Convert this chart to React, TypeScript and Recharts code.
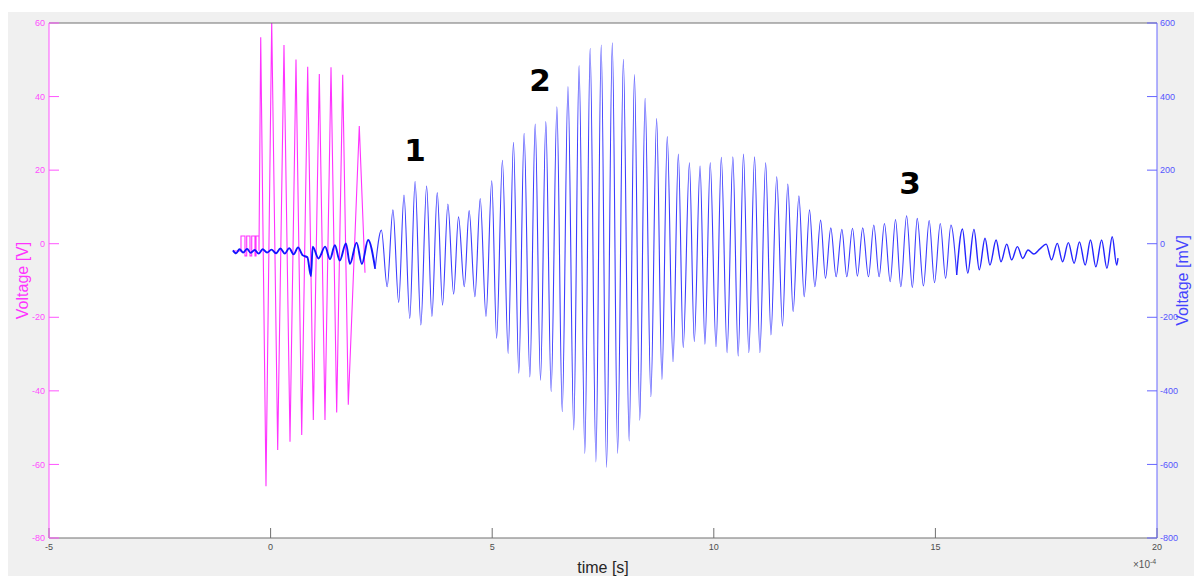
import { LineChart, Line, XAxis, YAxis, CartesianGrid, ReferenceDot, Label } from "recharts"

// time axis in units of 1e-4 s
const xTicks = [-5, 0, 5, 10, 15, 20]
const voltTicks = [-80, -60, -40, -20, 0, 20, 40, 60]
const milliTicks = [-800, -600, -400, -200, 0, 200, 400, 600]

// excitation signal [time, V]
const excitation = [
  [-0.85, -2], [-0.668, -2], [-0.668, 2.1], [-0.578, 2.1], [-0.578, -3.3], [-0.539, -3.3],
  [-0.539, 2.1], [-0.465, 2.1], [-0.465, -3.3], [-0.426, -3.3], [-0.426, 2.1], [-0.352, 2.1],
  [-0.352, -3.3], [-0.329, -3.3], [-0.329, 2.1], [-0.262, 2.1], [-0.262, -2],
  [-0.223, 56.1], [-0.104, -65.9], [0.025, 60.5], [0.16, -56.1], [0.302, 54.0], [0.438, -53.8],
  [0.573, 50.1], [0.702, -52.0], [0.837, 48.1], [0.964, -47.9], [1.099, 46.1], [1.227, -47.9],
  [1.363, 48.0], [1.491, -45.9], [1.627, 45.9], [1.753, -43.8], [2.001, 32.0], [2.13, -7.9],
]

// received signal [time, mV], split where the trace looks noisier
const responseStart = [
  [-0.85, -18], [-0.78, -26], [-0.70, -15], [-0.62, -24], [-0.53, -14], [-0.45, -25], [-0.36, -17],
  [-0.27, -27], [-0.18, -15], [-0.08, -24], [0.02, -16], [0.12, -26], [0.22, -13], [0.32, -27],
  [0.42, -12], [0.52, -29], [0.62, -10], [0.72, -31], [0.83, -37], [0.91, -88], [0.95, -8],
  [1.08, -40], [1.23, -8], [1.34, -42], [1.45, -4], [1.56, -46], [1.70, 1], [1.79, -55], [1.94, 3],
  [2.06, -55], [2.20, 10], [2.36, -68],
]

const responseMain = [
  [2.36, -68], [2.50, 37], [2.63, -117], [2.76, 92], [2.89, -160], [3.01, 132], [3.14, -203],
  [3.26, 169], [3.39, -221], [3.52, 157], [3.64, -198], [3.76, 139], [3.88, -167], [4.00, 108],
  [4.13, -137], [4.24, 73], [4.37, -117], [4.48, 90], [4.61, -144], [4.73, 123], [4.86, -198],
  [4.99, 171], [5.10, -257], [5.23, 227], [5.36, -298], [5.48, 276], [5.60, -352], [5.72, 300],
  [5.85, -362], [5.97, 325], [6.09, -371], [6.21, 332], [6.33, -402], [6.46, 372], [6.58, -457],
  [6.71, 427], [6.84, -506], [6.96, 484], [7.09, -570], [7.21, 531], [7.34, -593], [7.46, 540],
  [7.58, -608], [7.71, 546], [7.83, -570], [7.96, 501], [8.09, -536], [8.21, 460], [8.33, -480],
  [8.45, 395], [8.58, -416], [8.71, 340], [8.83, -369], [8.95, 291], [9.08, -321], [9.20, 244],
  [9.31, -282], [9.45, 220], [9.56, -266], [9.69, 211], [9.80, -273], [9.92, 220], [10.05, -280],
  [10.17, 235], [10.30, -296], [10.43, 236], [10.55, -305], [10.67, 244], [10.79, -296],
  [10.92, 236], [11.04, -296], [11.17, 220], [11.29, -248], [11.42, 182], [11.55, -224],
  [11.67, 162], [11.79, -185], [11.92, 130], [12.04, -144], [12.16, 92], [12.28, -117],
  [12.41, 64], [12.52, -94], [12.64, 43], [12.76, -90], [12.89, 39], [13.00, -90], [13.13, 42],
  [13.24, -88], [13.36, 43], [13.49, -90], [13.61, 51], [13.73, -90], [13.85, 55], [13.98, -103],
  [14.10, 66], [14.22, -117], [14.35, 76], [14.48, -119], [14.59, 69], [14.73, -115], [14.86, 63],
  [14.98, -106], [15.11, 55], [15.23, -94], [15.35, 51], [15.48, -85],
]

const responseEnd = [
  [15.48, -85], [15.61, 40], [15.73, -80], [15.87, 39], [15.99, -71], [16.12, 15], [16.23, -58],
  [16.37, 10], [16.48, -49], [16.61, -1], [16.72, -44], [16.85, -8], [16.97, -40], [17.09, -17],
  [17.22, -28], [17.36, -14], [17.50, -1], [17.62, -44], [17.75, 1], [17.87, -49], [18.00, 3],
  [18.13, -53], [18.25, 5], [18.38, -58], [18.50, 10], [18.62, -63], [18.75, 10], [18.87, -67],
  [18.99, 19], [19.09, -58], [19.12, -39],
]

// wave packet markers [label, time, V]
const markers: [string, number, number][] = [
  ["1", 3.26, 25.5],
  ["2", 6.08, 44.5],
  ["3", 14.43, 16.5],
]

const toRows = (pts: number[][]) => pts.map(([t, v]) => ({ t, v }))

const W = 1194
const H = 564
const font = "'Liberation Sans', Arial, Helvetica, sans-serif"

export default function App() {
  return (
    <div style={{ position: "relative", width: W, height: H, marginTop: 4, background: "#f0f0f0", fontFamily: font }}>
      <LineChart width={W} height={H} margin={{ top: 0, right: 0, bottom: 0, left: 0 }}>
        <CartesianGrid xAxisId="b" yAxisId="v" fill="#ffffff" horizontal={false} vertical={false} />
        <XAxis
          xAxisId="top"
          orientation="top"
          type="number"
          domain={[-5, 20]}
          ticks={xTicks}
          height={11}
          tick={false}
          tickSize={-10}
          axisLine={{ stroke: "#707070" }}
          tickLine={{ stroke: "#707070" }}
        />
        <XAxis
          xAxisId="b"
          dataKey="t"
          type="number"
          domain={[-5, 20]}
          ticks={xTicks}
          height={38}
          tickSize={-10}
          tickMargin={16}
          tick={{ fill: "#4d4d4d", fontSize: 9, fontFamily: font }}
          axisLine={{ stroke: "#707070" }}
          tickLine={{ stroke: "#707070" }}
        >
          <Label value="time [s]" position="center" dy={10} fill="#262626" fontSize={16} fontFamily={font} />
        </XAxis>
        <YAxis
          yAxisId="v"
          orientation="left"
          width={41}
          type="number"
          domain={[-80, 60]}
          ticks={voltTicks}
          allowDataOverflow
          tickSize={-10}
          tickMargin={14}
          tick={{ fill: "#ff4dff", fontSize: 9, fontFamily: font }}
          axisLine={{ stroke: "#ff55ff" }}
          tickLine={{ stroke: "#ff55ff" }}
        >
          <Label value="Voltage [V]" angle={-90} position="center" dx={-6} fill="#ff33ff" fontSize={16} fontFamily={font} />
        </YAxis>
        <YAxis
          yAxisId="mv"
          orientation="right"
          width={45}
          type="number"
          domain={[-800, 600]}
          ticks={milliTicks}
          allowDataOverflow
          tickSize={-10}
          tickMargin={13}
          tick={{ fill: "#5555ff", fontSize: 9, fontFamily: font }}
          axisLine={{ stroke: "#6666ff" }}
          tickLine={{ stroke: "#6666ff" }}
        >
          <Label value="Voltage [mV]" angle={-90} position="center" dx={3} fill="#4444ff" fontSize={16} fontFamily={font} />
        </YAxis>
        <Line
          xAxisId="b"
          yAxisId="v"
          data={toRows(excitation)}
          dataKey="v"
          type="linear"
          stroke="#ff33ff"
          strokeWidth={1.1}
          dot={false}
          activeDot={false}
          isAnimationActive={false}
        />
        <Line
          xAxisId="b"
          yAxisId="mv"
          data={toRows(responseStart)}
          dataKey="v"
          type="monotone"
          stroke="#1414ff"
          strokeWidth={1.9}
          dot={false}
          activeDot={false}
          isAnimationActive={false}
        />
        <Line
          xAxisId="b"
          yAxisId="mv"
          data={toRows(responseMain)}
          dataKey="v"
          type="monotone"
          stroke="#3c3cff"
          strokeWidth={1.1}
          dot={false}
          activeDot={false}
          isAnimationActive={false}
        />
        <Line
          xAxisId="b"
          yAxisId="mv"
          data={toRows(responseEnd)}
          dataKey="v"
          type="monotone"
          stroke="#2424ff"
          strokeWidth={1.4}
          dot={false}
          activeDot={false}
          isAnimationActive={false}
        />
        {markers.map(([name, t, v]) => (
          <ReferenceDot
            key={name}
            xAxisId="b"
            yAxisId="v"
            x={t}
            y={v}
            r={1}
            fill="none"
            stroke="none"
            label={{ value: name, position: "center", fill: "#000", fontSize: 31, fontWeight: 700, fontFamily: "'DejaVu Sans', Verdana, sans-serif" }}
          />
        ))}
      </LineChart>
      <div style={{ position: "absolute", left: 1125, top: 546, fontSize: 10, color: "#555", whiteSpace: "nowrap" }}>
        ×10<sup style={{ fontSize: 7 }}>-4</sup>
      </div>
    </div>
  )
}
